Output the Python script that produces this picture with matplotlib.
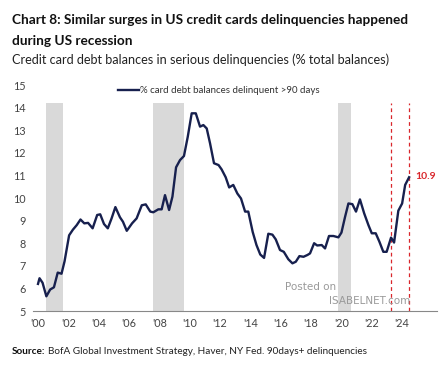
import matplotlib
matplotlib.use("Agg")
import matplotlib.pyplot as plt

# decimal year / % of balances 90+ days delinquent
years = [
    2000.0, 2000.1, 2000.3, 2000.55, 2000.8, 2001.05, 2001.3, 2001.55, 2001.75,
    2002.05, 2002.3, 2002.55, 2002.8, 2003.05, 2003.3, 2003.6, 2003.9, 2004.1,
    2004.35, 2004.6, 2004.85, 2005.1, 2005.4, 2005.6, 2005.85, 2006.2, 2006.5,
    2006.84, 2007.1, 2007.4, 2007.6, 2007.93, 2008.15, 2008.37, 2008.64, 2008.86,
    2009.1, 2009.36, 2009.62, 2009.87, 2010.13, 2010.4, 2010.68, 2010.9, 2011.12,
    2011.34, 2011.6, 2011.9, 2012.1, 2012.37, 2012.6, 2012.87, 2013.14, 2013.38,
    2013.65, 2013.86, 2014.15, 2014.4, 2014.65, 2014.9, 2015.18, 2015.45, 2015.67,
    2015.95, 2016.2, 2016.5, 2016.77, 2016.99, 2017.23, 2017.5, 2017.76, 2017.93,
    2018.2, 2018.4, 2018.7, 2018.92, 2019.18, 2019.47, 2019.8, 2020.0, 2020.24,
    2020.46, 2020.72, 2020.96, 2021.22, 2021.5, 2021.78, 2022.0, 2022.26, 2022.5,
    2022.76, 2022.98, 2023.27, 2023.47, 2023.75, 2024.0, 2024.2, 2024.46,
]
delinq = [
    6.2, 6.45, 6.25, 5.65, 5.95, 6.05, 6.7, 6.65, 7.2,
    8.35, 8.6, 8.8, 9.05, 8.88, 8.9, 8.66, 9.25, 9.28,
    8.85, 8.66, 9.1, 9.6, 9.15, 8.95, 8.55, 8.88, 9.1,
    9.68, 9.72, 9.4, 9.37, 9.5, 9.5, 10.13, 9.47, 10.06,
    11.36, 11.68, 11.86, 12.71, 13.75, 13.75, 13.16, 13.23, 13.08,
    12.42, 11.54, 11.46, 11.27, 10.92, 10.47, 10.58, 10.2, 9.98,
    9.4, 9.4, 8.5, 7.92, 7.5, 7.35, 8.42, 8.38, 8.17,
    7.7, 7.62, 7.29, 7.11, 7.18, 7.43, 7.4, 7.48, 7.55,
    8.0, 7.9, 7.92, 7.77, 8.32, 8.32, 8.26, 8.47, 9.17,
    9.76, 9.73, 9.4, 9.94, 9.32, 8.8, 8.44, 8.44, 8.07,
    7.62, 7.62, 8.25, 8.03, 9.44, 9.76, 10.58, 10.92,
]

recessions = [(2000.5, 2001.65), (2007.6, 2009.6), (2019.8, 2020.6)]
red_lines = [2023.27, 2024.43]
last_label = "10.9"
tick_years = list(range(2000, 2025, 2))
tick_labels = ["'%02d" % (y % 100) for y in tick_years]

plt.rcParams["font.family"] = ["Lato", "DejaVu Sans"]

fig = plt.figure(figsize=(4.43, 3.71), dpi=100)
ax = fig.add_axes([0.0745, 0.1617, 0.912, 0.609])

for a, b in recessions:
    ax.axvspan(a, b, ymin=0, ymax=0.92, color="#d9d9d9", lw=0, zorder=0)
for x in red_lines:
    ax.axvline(x, ymin=0, ymax=0.92, color="#d9262b", lw=0.9, ls=(0, (3, 2.5)), zorder=1)

ax.plot(years, delinq, color="#17204e", lw=1.7, zorder=3,
        label="% card debt balances delinquent >90 days")
ax.text(2024.85, delinq[-1] + 0.05, last_label, color="#d9262b", fontsize=7.5,
        fontweight="bold", va="center", ha="left")

ax.set_xlim(1999.67, 2026.3)
ax.set_ylim(5, 15)
ax.set_yticks(range(5, 16))
ax.set_xticks(tick_years)
ax.set_xticklabels(tick_labels)
ax.tick_params(length=0, labelsize=7.8, colors="#444444", pad=5)
for s in ["left", "right", "top"]:
    ax.spines[s].set_visible(False)
ax.spines["bottom"].set_color("#888888")
ax.spines["bottom"].set_linewidth(0.8)

leg = ax.legend(loc="upper center", bbox_to_anchor=(0.46, 1.035), frameon=False,
                fontsize=7, handlelength=2.2, handletextpad=0.1)
for t in leg.get_texts():
    t.set_color("#333333")

# watermark
ax.text(2016.3, 5.95, "Posted on", color="#9a9a9a", fontsize=7.5, family="DejaVu Sans")
ax.text(2019.2, 5.3, "ISABELNET.com", color="#9a9a9a", fontsize=7.5, family="DejaVu Sans")

fig.text(0.027, 0.945, "Chart 8: Similar surges in US credit cards delinquencies happened",
         fontsize=9.8, fontweight="bold", color="#111111", va="center")
fig.text(0.027, 0.89, "during US recession", fontsize=9.8, fontweight="bold",
         color="#111111", va="center")
fig.text(0.027, 0.84, "Credit card debt balances in serious delinquencies (% total balances)",
         fontsize=9.1, color="#222222", va="center")

src = fig.text(0.027, 0.052, "Source:", fontsize=7.2, fontweight="bold",
               color="#111111", va="center")
r = fig.canvas.get_renderer()
x_after = src.get_window_extent(r).x1 / fig.bbox.width
fig.text(x_after + 0.005, 0.052,
         "BofA Global Investment Strategy, Haver, NY Fed. 90days+ delinquencies",
         fontsize=7.2, color="#222222", va="center")

fig.savefig("out.png", dpi=100)
